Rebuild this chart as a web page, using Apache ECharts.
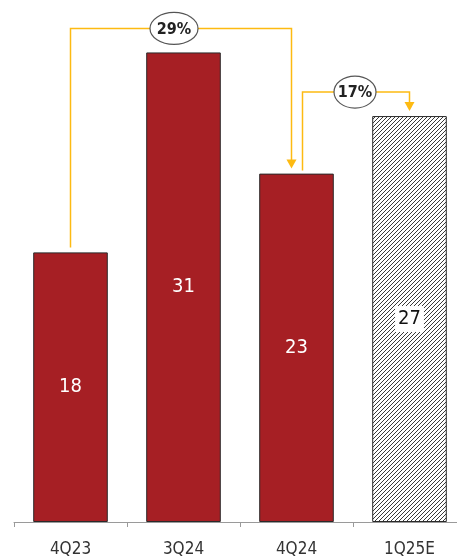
<!DOCTYPE html>
<html><head><meta charset="utf-8">
<script src="https://cdn.jsdelivr.net/npm/echarts@6/dist/echarts.min.js"></script>
<style>html,body{margin:0;padding:0;background:#fff}#c{width:457px;height:557px}</style>
</head><body><div id="c"></div>
<script>
const categories = ['4Q23', '3Q24', '4Q24', '1Q25E'];
const values = [17.8, 31, 23, 26.8];
const valueLabels = ['18', '31', '23', '27'];
const estimateFlags = [false, false, false, true];
const growthFrom = [0, 2];
const growthTo = [2, 3];
const growthLabels = ['29%', '17%'];

const RED = '#A61F24';
const GOLD = '#FDBA12';
const FONT = "'Liberation Sans Narrow', 'DejaVu Sans Condensed', sans-serif";

function hatch() {
  const c = document.createElement('canvas');
  c.width = 4; c.height = 4;
  const g = c.getContext('2d');
  g.fillStyle = '#fff'; g.fillRect(0, 0, 4, 4);
  g.strokeStyle = '#222'; g.lineWidth = 0.9;
  g.beginPath();
  g.moveTo(-1, 5); g.lineTo(5, -1);
  g.moveTo(-1, 1); g.lineTo(1, -1);
  g.moveTo(3, 5); g.lineTo(5, 3);
  g.stroke();
  return c;
}
const hatchPattern = { image: hatch(), repeat: 'repeat' };

const chart = echarts.init(document.getElementById('c'), null, { renderer: 'canvas' });
chart.setOption({
  animation: false,
  grid: { left: 14, width: 452, top: 7, bottom: 35, containLabel: false, outerBoundsMode: 'none' },
  xAxis: {
    type: 'category', data: categories, boundaryGap: true,
    axisLine: { lineStyle: { color: '#9a9a9a', width: 1 } },
    axisTick: { show: true, length: 5, inside: false, lineStyle: { color: '#9a9a9a' } },
    axisLabel: { color: '#333', fontSize: 17, fontFamily: FONT, margin: 19 }
  },
  yAxis: { type: 'value', min: 0, max: 34, show: false, splitLine: { show: false } },
  series: [{
    type: 'bar', barWidth: '66%',
    data: values.map((v, i) => ({
      value: v,
      itemStyle: estimateFlags[i]
        ? { color: hatchPattern, borderColor: '#2a2a2a', borderWidth: 1 }
        : { color: RED, borderColor: '#2a2a2a', borderWidth: 1 },
      label: estimateFlags[i]
        ? { color: '#111', backgroundColor: '#fff', padding: [4, 3, 2, 3] }
        : { color: '#fff' }
    })),
    label: {
      show: true, position: 'inside', fontSize: 20, fontFamily: FONT,
      formatter: p => valueLabels[p.dataIndex]
    }
  }]
});

function px(i) { return chart.convertToPixel({ xAxisIndex: 0, yAxisIndex: 0 }, [i, values[i]]); }
const graphics = [];
growthFrom.forEach((from, k) => {
  const to = growthTo[k];
  const a = px(from), b = px(to);
  let minTop = Math.min(a[1], b[1]);
  for (let i = from; i <= to; i++) minTop = Math.min(minTop, px(i)[1]);
  const level = minTop - 24;
  const sx = k === 0 ? a[0] : a[0] + 6;
  const sy = k === 0 ? a[1] - 5 : a[1] - 3;
  const ex = k === 0 ? b[0] - 5 : b[0];
  const tipY = b[1] - 5;
  graphics.push({
    type: 'polyline', shape: { points: [[sx, sy], [sx, level], [ex, level], [ex, tipY - 8]] },
    style: { stroke: GOLD, lineWidth: 1.5, fill: null }, z: 10
  });
  graphics.push({
    type: 'polygon', shape: { points: [[ex - 5, tipY - 9], [ex + 5, tipY - 9], [ex, tipY]] },
    style: { fill: GOLD }, z: 10
  });
  const cx = (sx + ex) / 2 + (k === 0 ? -7 : -1);
  const rx = k === 0 ? 24 : 21;
  graphics.push({
    type: 'ellipse', shape: { cx: cx, cy: level, rx: rx, ry: 16 },
    style: { fill: '#fff', stroke: '#555', lineWidth: 1.2 }, z: 11
  });
  graphics.push({
    type: 'text', x: cx, y: level + 1, z: 12,
    style: { text: growthLabels[k], fill: '#222', font: "bold 16px 'Liberation Sans Narrow', 'DejaVu Sans Condensed', sans-serif", align: 'center', verticalAlign: 'middle' }
  });
});
chart.setOption({ graphic: graphics });
</script></body></html>
